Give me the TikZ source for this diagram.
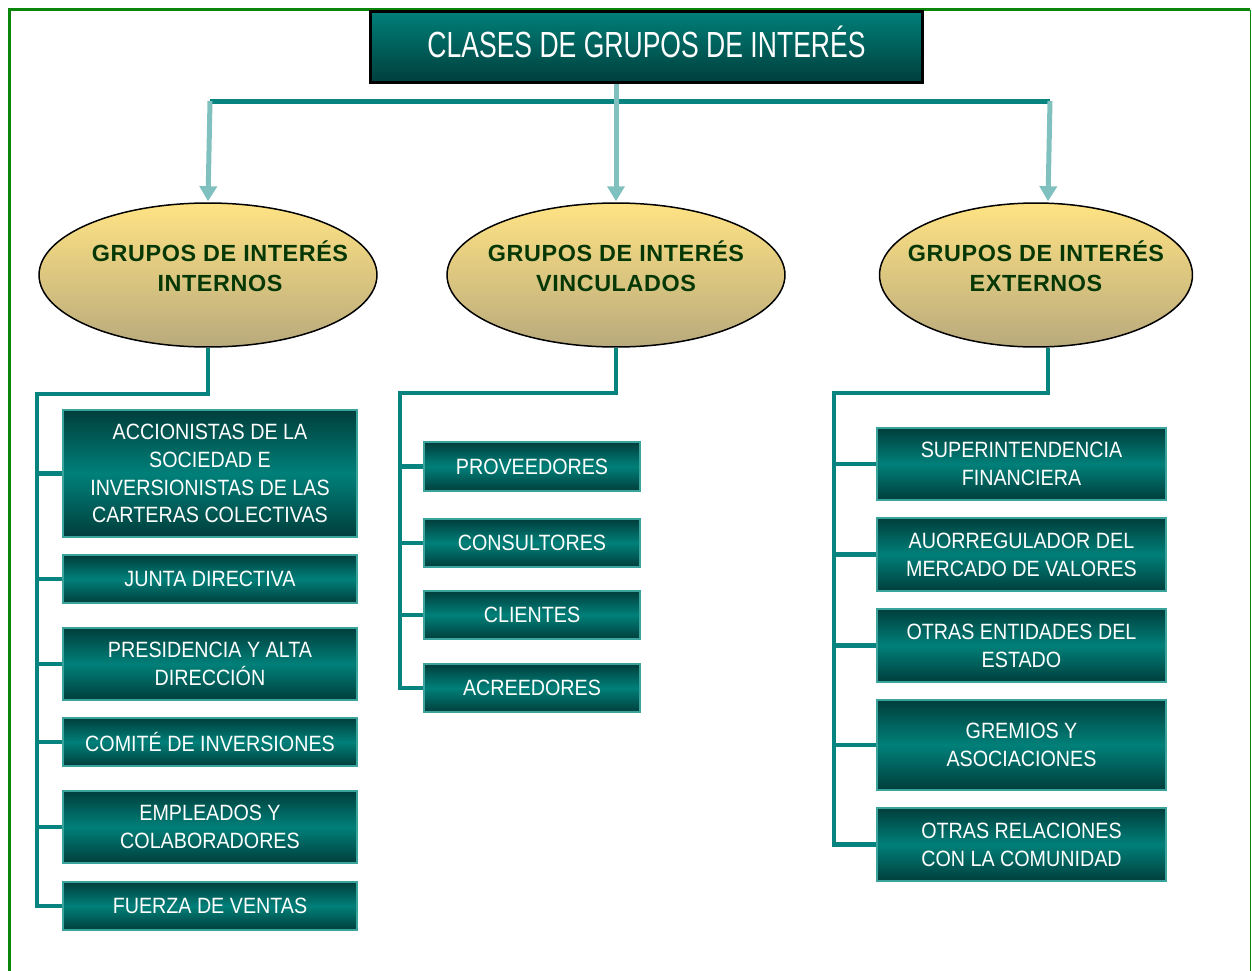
\documentclass[tikz,border=0pt]{standalone}
\usepackage{fontspec}
\setmainfont{Liberation Sans}
\newfontfamily\boxfont{Liberation Sans}[FakeStretch=0.89]
\newfontfamily\ttlfont{Liberation Sans}[FakeStretch=0.73]
\newfontfamily\ellfont{Liberation Sans}[LetterSpace=2.5]
\usetikzlibrary{shapes.geometric,arrows.meta}
\definecolor{tdark}{HTML}{003E3C}
\definecolor{tmid}{HTML}{008079}
\definecolor{boxedge}{HTML}{3AA39C}
\definecolor{connc}{HTML}{07847F}
\definecolor{arrc}{HTML}{80C1BF}
\definecolor{framec}{HTML}{0A860A}
\definecolor{ellTop}{HTML}{FFE384}
\definecolor{ellBot}{HTML}{B9AA7C}
\definecolor{ellText}{HTML}{063806}
\tikzset{
  boxst/.style={draw=boxedge, line width=0.04cm, top color=tdark, bottom color=tdark, middle color=tmid,
    text=white, align=center, inner sep=0pt, font=\boxfont\fontsize{12.6pt}{15.8pt}\selectfont},
  ttlst/.style={draw=black, line width=0.06cm, top color=tmid, bottom color=tdark, text=white,
    align=center, inner sep=0pt, font=\ttlfont\fontsize{20.7pt}{24pt}\selectfont},
  ellst/.style={ellipse, draw=black, line width=0.03cm, top color=ellTop, bottom color=ellBot, inner sep=0pt},
  elltxt/.style={text=ellText, align=center, inner sep=0pt, font=\ellfont\bfseries\fontsize{13.3pt}{17pt}\selectfont},
  conn/.style={draw=connc, line width=0.09cm, line join=miter},
  topline/.style={draw=connc, line width=0.1cm},
  arr/.style={draw=arrc, line width=0.1cm, -{Triangle[length=0.3cm,width=0.34cm]}},
}
\begin{document}
\begin{tikzpicture}[x=0.02cm,y=-0.02cm]
\useasboundingbox (0,0) rectangle (1252,971);
% frame
\draw[framec, line width=0.06cm] (9.5,971) -- (9.5,9.5) -- (1250,9.5);
\draw[framec, line width=0.03cm] (1250.5,9.5) -- (1250.5,971);

% title
\node[ttlst, minimum width=11.06cm, minimum height=1.44cm] (title) at (646.5,47) {\raisebox{0.22cm}{CLASES DE GRUPOS DE INTERÉS}};

% ellipses
\node[ellst, minimum width=6.76cm, minimum height=2.88cm] (ellL) at (208,275) {};
\node[ellst, minimum width=6.76cm, minimum height=2.88cm] (ellM) at (616,275) {};
\node[ellst, minimum width=6.26cm, minimum height=2.88cm] (ellR) at (1036,275) {};
\node[elltxt] (ellLt) at (220,266) {GRUPOS DE INTERÉS\\INTERNOS};
\node[elltxt] (ellMt) at (616,266) {GRUPOS DE INTERÉS\\VINCULADOS};
\node[elltxt] (ellRt) at (1036,266) {GRUPOS DE INTERÉS\\EXTERNOS};

% top connectors
\coordinate (hl) at (210,101);
\coordinate (hr) at (1050,101);
\draw[topline] (hl) -- (hr);
\draw[arr] (hl) -- ([yshift=0.02cm]ellL.north);
\draw[arr] (title.south -| ellM.north) -- ([yshift=0.02cm]ellM.north);
\draw[arr] (hr) -- ([xshift=0.24cm,yshift=0.02cm]ellR.north);

% left column
\node[boxst, minimum width=5.88cm, minimum height=2.54cm] (acc) at (210,473.5) {ACCIONISTAS DE LA\\SOCIEDAD E\\INVERSIONISTAS DE LAS\\CARTERAS COLECTIVAS};
\node[boxst, minimum width=5.88cm, minimum height=0.96cm] (junta) at (210,579) {JUNTA DIRECTIVA};
\node[boxst, minimum width=5.88cm, minimum height=1.44cm] (pres) at (210,664) {PRESIDENCIA Y ALTA\\DIRECCIÓN};
\node[boxst, minimum width=5.88cm, minimum height=0.96cm] (comite) at (210,742) {COMITÉ DE INVERSIONES};
\node[boxst, minimum width=5.88cm, minimum height=1.44cm] (empl) at (210,827) {EMPLEADOS Y\\COLABORADORES};
\node[boxst, minimum width=5.88cm, minimum height=0.96cm] (fuerza) at (210,906) {FUERZA DE VENTAS};

% middle column
\node[boxst, minimum width=4.32cm, minimum height=0.98cm] (prov) at (532,466.5) {PROVEEDORES};
\node[boxst, minimum width=4.32cm, minimum height=0.96cm] (cons) at (532,543) {CONSULTORES};
\node[boxst, minimum width=4.32cm, minimum height=0.96cm] (cli) at (532,615) {CLIENTES};
\node[boxst, minimum width=4.32cm, minimum height=0.96cm] (acre) at (532,688) {ACREEDORES};

% right column
\node[boxst, minimum width=5.78cm, minimum height=1.44cm] (sup) at (1021.5,464) {SUPERINTENDENCIA\\FINANCIERA};
\node[boxst, minimum width=5.78cm, minimum height=1.46cm] (auo) at (1021.5,554.5) {AUORREGULADOR DEL\\MERCADO DE VALORES};
\node[boxst, minimum width=5.78cm, minimum height=1.46cm] (ent) at (1021.5,645.5) {OTRAS ENTIDADES DEL\\ESTADO};
\node[boxst, minimum width=5.78cm, minimum height=1.80cm] (grem) at (1021.5,745) {GREMIOS Y\\ASOCIACIONES};
\node[boxst, minimum width=5.78cm, minimum height=1.46cm] (rel) at (1021.5,844.5) {OTRAS RELACIONES\\CON LA COMUNIDAD};

% bottom connectors, left
\coordinate (lt) at (37,394);
\draw[conn] (ellL.south) |- (lt) |- (fuerza.west);
\foreach \b in {acc,junta,pres,comite,empl}
  \draw[conn] (lt |- \b.west) -- (\b.west);

% middle
\coordinate (mt) at (400,393);
\draw[conn] (ellM.south) |- (mt) |- (acre.west);
\foreach \b in {prov,cons,cli}
  \draw[conn] (mt |- \b.west) -- (\b.west);

% right
\coordinate (rt) at (834,393);
\draw[conn] ([xshift=0.24cm]ellR.south) |- (rt) |- (rel.west);
\foreach \b in {sup,auo,ent,grem}
  \draw[conn] (rt |- \b.west) -- (\b.west);
\end{tikzpicture}
\end{document}
